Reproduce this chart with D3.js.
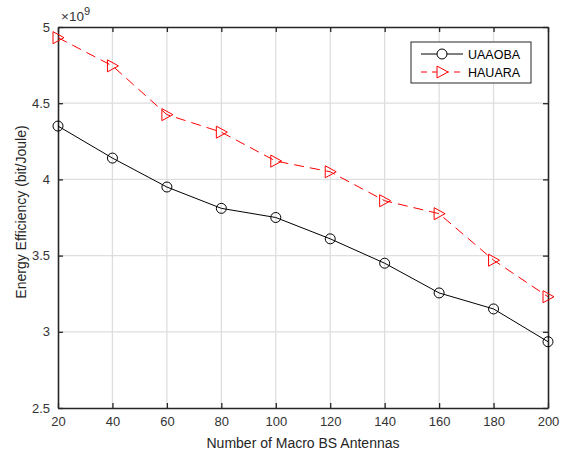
<!DOCTYPE html>
<html>
<head>
<meta charset="utf-8">
<script src="https://cdn.jsdelivr.net/npm/d3@7"></script>
<style>
  body { margin: 0; background: #fff; }
  text { font-family: "Liberation Sans", Arial, sans-serif; }
</style>
</head>
<body>
<div id="chart"></div>
<script>
// antennas on the x axis
const antennas = [20, 40, 60, 80, 100, 120, 140, 160, 180, 200];
// energy efficiency, in units of 1e9 bit/Joule
const uaaoba = [4.35, 4.14, 3.95, 3.81, 3.75, 3.61, 3.45, 3.255, 3.15, 2.935];
const hauara = [4.93, 4.745, 4.425, 4.31, 4.12, 4.05, 3.86, 3.775, 3.47, 3.23];
const xTicks = [20, 40, 60, 80, 100, 120, 140, 160, 180, 200];
const yTicks = [2.5, 3, 3.5, 4, 4.5, 5];

function drawChart() {
  const W = 561, H = 456;
  const margin = { top: 27, right: 13, bottom: 48, left: 58 };
  const width = W - margin.left - margin.right;
  const height = H - margin.top - margin.bottom;

  const svg = d3.select("#chart").append("svg")
      .attr("width", W)
      .attr("height", H);

  const g = svg.append("g")
      .attr("transform", `translate(${margin.left},${margin.top})`);

  const x = d3.scaleLinear().domain([20, 200]).range([0, width]);
  const y = d3.scaleLinear().domain([2.5, 5]).range([height, 0]);

  // --- grid ---
  g.append("g").selectAll("line").data(xTicks.slice(1, -1)).join("line")
      .attr("x1", d => x(d)).attr("x2", d => x(d))
      .attr("y1", 0).attr("y2", height)
      .style("stroke", "#dedede").style("stroke-width", 1.3);
  g.append("g").selectAll("line").data(yTicks.slice(1, -1)).join("line")
      .attr("y1", d => y(d)).attr("y2", d => y(d))
      .attr("x1", 0).attr("x2", width)
      .style("stroke", "#dedede").style("stroke-width", 1.3);

  // --- axes (ticks inward, box) ---
  const tickLen = 5;
  const axisColor = "#262626";

  const xAxis = g.append("g")
      .attr("transform", `translate(0,${height})`)
      .call(d3.axisBottom(x).tickValues(xTicks).tickSizeInner(-tickLen).tickSizeOuter(0).tickPadding(9));
  const yAxis = g.append("g")
      .call(d3.axisLeft(y).tickValues(yTicks).tickFormat(d3.format("")).tickSizeInner(-tickLen).tickSizeOuter(0).tickPadding(8));
  const xTop = g.append("g")
      .call(d3.axisTop(x).tickValues(xTicks).tickSizeInner(-tickLen).tickSizeOuter(0).tickFormat(""));
  const yRight = g.append("g")
      .attr("transform", `translate(${width},0)`)
      .call(d3.axisRight(y).tickValues(yTicks).tickSizeInner(-tickLen).tickSizeOuter(0).tickFormat(""));

  [xAxis, yAxis, xTop, yRight].forEach(a => {
    a.select(".domain").style("stroke", axisColor).style("stroke-width", 1.6);
    a.selectAll(".tick line").style("stroke", axisColor).style("stroke-width", 1.3);
    a.selectAll(".tick text")
        .style("fill", "#333")
        .style("font-size", "13px")
        .style("font-family", "'Liberation Sans', Arial, sans-serif");
  });

  // --- lines ---
  const line = d3.line()
      .x((d, i) => x(antennas[i]))
      .y(d => y(d));

  g.append("path")
      .datum(uaaoba)
      .attr("d", line)
      .style("fill", "none")
      .style("stroke", "#000")
      .style("stroke-width", 1);

  g.append("path")
      .datum(hauara)
      .attr("d", line)
      .style("fill", "none")
      .style("stroke", "#ff0000")
      .style("stroke-width", 1)
      .style("stroke-dasharray", "10,6");

  // circle markers
  g.append("g").selectAll("circle").data(uaaoba).join("circle")
      .attr("cx", (d, i) => x(antennas[i]))
      .attr("cy", d => y(d))
      .attr("r", 5)
      .style("fill", "none")
      .style("stroke", "#000")
      .style("stroke-width", 1);

  // right-pointing triangle markers
  const tri = "M-5,-6L6,0L-5,6Z";
  g.append("g").selectAll("path").data(hauara).join("path")
      .attr("d", tri)
      .attr("transform", (d, i) => `translate(${x(antennas[i])},${y(d)})`)
      .style("fill", "none")
      .style("stroke", "#ff0000")
      .style("stroke-width", 1);

  // --- exponent label ---
  const expo = svg.append("text")
      .attr("x", margin.left + 3)
      .attr("y", margin.top - 6)
      .style("font-size", "13.5px")
      .style("fill", "#333");
  expo.append("tspan").text("×10");
  expo.append("tspan").attr("dy", -6).style("font-size", "11px").text("9");

  // --- axis labels ---
  svg.append("text")
      .attr("x", margin.left + width / 2)
      .attr("y", H - 8)
      .style("text-anchor", "middle")
      .style("font-size", "14px")
      .style("fill", "#262626")
      .text("Number of Macro BS Antennas");

  svg.append("text")
      .attr("transform", `translate(26,212) rotate(-90)`)
      .style("text-anchor", "middle")
      .style("font-size", "14px")
      .style("fill", "#262626")
      .text("Energy Efficiency (bit/Joule)");

  // --- legend ---
  const legend = svg.append("g").attr("transform", "translate(411,42)");
  legend.append("rect")
      .attr("width", 120).attr("height", 41)
      .style("fill", "#fff")
      .style("stroke", "#262626")
      .style("stroke-width", 1);

  const items = [
    { name: "UAAOBA", color: "#000", dash: null, marker: "circle" },
    { name: "HAUARA", color: "#ff0000", dash: "6,5", marker: "tri" }
  ];
  items.forEach((it, k) => {
    const yy = 12 + k * 18;
    legend.append("line")
        .attr("x1", 10).attr("x2", 52)
        .attr("y1", yy).attr("y2", yy)
        .style("stroke", it.color)
        .style("stroke-width", 1)
        .style("stroke-dasharray", it.dash);
    if (it.marker === "circle") {
      legend.append("circle")
          .attr("cx", 31).attr("cy", yy).attr("r", 5)
          .style("fill", "#fff").style("stroke", it.color);
    } else {
      legend.append("path")
          .attr("d", tri)
          .attr("transform", `translate(31,${yy})`)
          .style("fill", "#fff").style("stroke", it.color);
    }
    legend.append("text")
        .attr("x", 57).attr("y", yy + 4.5)
        .style("font-size", "12.5px")
        .style("fill", "#000")
        .text(it.name);
  });
}

document.addEventListener("DOMContentLoaded", drawChart);
</script>
</body>
</html>
